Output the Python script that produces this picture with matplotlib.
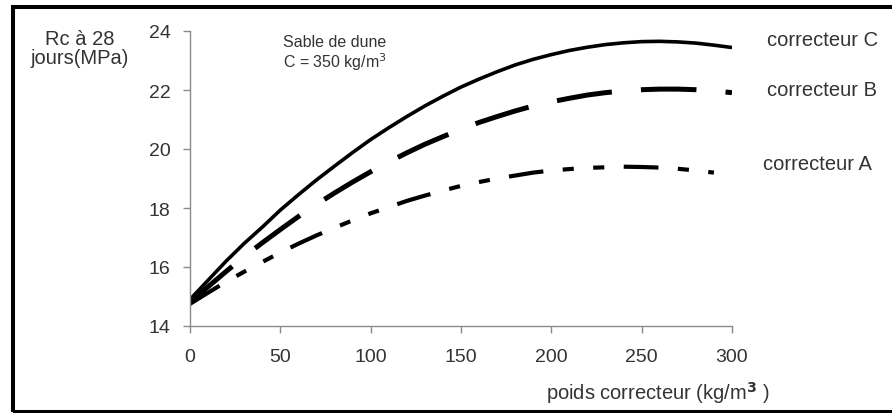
import matplotlib
matplotlib.use("Agg")
import matplotlib.pyplot as plt
from matplotlib.patches import Rectangle

plt.rcParams['font.family'] = ['Liberation Sans', 'DejaVu Sans']
plt.rcParams['lines.scale_dashes'] = False

# Data
x_vals = [0, 10, 20, 30, 40, 50, 60, 70, 80, 90, 100, 110, 120, 130, 140, 150,
          160, 170, 180, 190, 200, 210, 220, 230, 240, 250, 260, 270, 280, 290, 300]
corr_C = [14.9, 15.55, 16.2, 16.8, 17.35, 17.93, 18.45, 18.95, 19.42, 19.88, 20.32,
          20.72, 21.1, 21.46, 21.79, 22.1, 22.37, 22.62, 22.85, 23.04, 23.2,
          23.34, 23.45, 23.54, 23.6, 23.64, 23.65, 23.63, 23.59, 23.52, 23.44]
corr_B = [14.8, 15.33, 15.85, 16.35, 16.82, 17.27, 17.71, 18.12, 18.51, 18.88, 19.23,
          19.56, 19.87, 20.16, 20.42, 20.67, 20.9, 21.1, 21.29, 21.46, 21.6,
          21.72, 21.83, 21.91, 21.97, 22.01, 22.03, 22.03, 22.01, 21.97, 21.91]
x_A = [0, 10, 20, 30, 40, 50, 60, 70, 80, 90, 100, 110, 120, 130, 140, 150,
       160, 170, 180, 190, 200, 210, 220, 230, 240, 250, 260, 270, 280, 290]
corr_A = [14.75, 15.13, 15.5, 15.84, 16.17, 16.49, 16.79, 17.07, 17.33, 17.58, 17.82,
          18.03, 18.24, 18.42, 18.59, 18.75, 18.88, 19.0, 19.1, 19.2, 19.27,
          19.32, 19.36, 19.38, 19.4, 19.39, 19.37, 19.33, 19.27, 19.2]

x_ticks = [0, 50, 100, 150, 200, 250, 300]
y_ticks = [14, 16, 18, 20, 22, 24]
labels = ["correcteur C", "correcteur B", "correcteur A"]

W, H = 892, 414
fig = plt.figure(figsize=(W / 100, H / 100), dpi=100)
ax = fig.add_axes([190 / W, 1 - 327 / H, (732 - 190) / W, (327 - 32) / H])

ax.plot(x_vals, corr_C, color='black', lw=2.6, solid_capstyle='butt')
ax.plot(x_vals, corr_B, color='black', lw=3.6, dashes=(40, 21), dash_capstyle='butt')
ax.plot(x_A, corr_A, color='black', lw=3.0, dashes=(25, 14, 8, 14, 8, 14), dash_capstyle='butt')

ax.set_xlim(0, 300)
ax.set_ylim(14, 24)
ax.set_xticks(x_ticks)
ax.set_yticks(y_ticks)
for s in ['top', 'right']:
    ax.spines[s].set_visible(False)
for s in ['left', 'bottom']:
    ax.spines[s].set_color('#8a8a8a')
    ax.spines[s].set_linewidth(1.0)
ax.tick_params(axis='both', direction='out', length=5, width=1.0, color='#8a8a8a',
               labelsize=14, labelcolor='#333333')
ax.tick_params(axis='x', pad=11)
ax.tick_params(axis='y', pad=9)

tc = '#333333'
fig.text(80 / W, 1 - 49 / H, "Rc à 28\njours(MPa)", ha='center', va='center',
         fontsize=14.5, color=tc, linespacing=1.05)
fig.text(770 / W, 1 - 393 / H, r"poids correcteur (kg/m$^{\mathbf{3}}$ )", ha='right', va='center',
         fontsize=14.5, color=tc)
fig.text(283 / W, 1 - 54 / H, "Sable de dune\nC = 350 kg/m$^3$", ha='left', va='center',
         fontsize=11.5, color=tc, linespacing=1.1)

label_pos = [(767, 40), (767, 90), (763, 165)]
for lab, (px, py) in zip(labels, label_pos):
    fig.text(px / W, 1 - py / H, lab, ha='left', va='center', fontsize=14.5, color=tc)

frame = Rectangle((12.5 / W, 1.5 / H), 1.2, (406 - 1.5) / H, transform=fig.transFigure,
                  fill=False, edgecolor='black', lw=2.9, clip_on=False)
fig.patches.append(frame)

fig.savefig("out.png", dpi=100)
